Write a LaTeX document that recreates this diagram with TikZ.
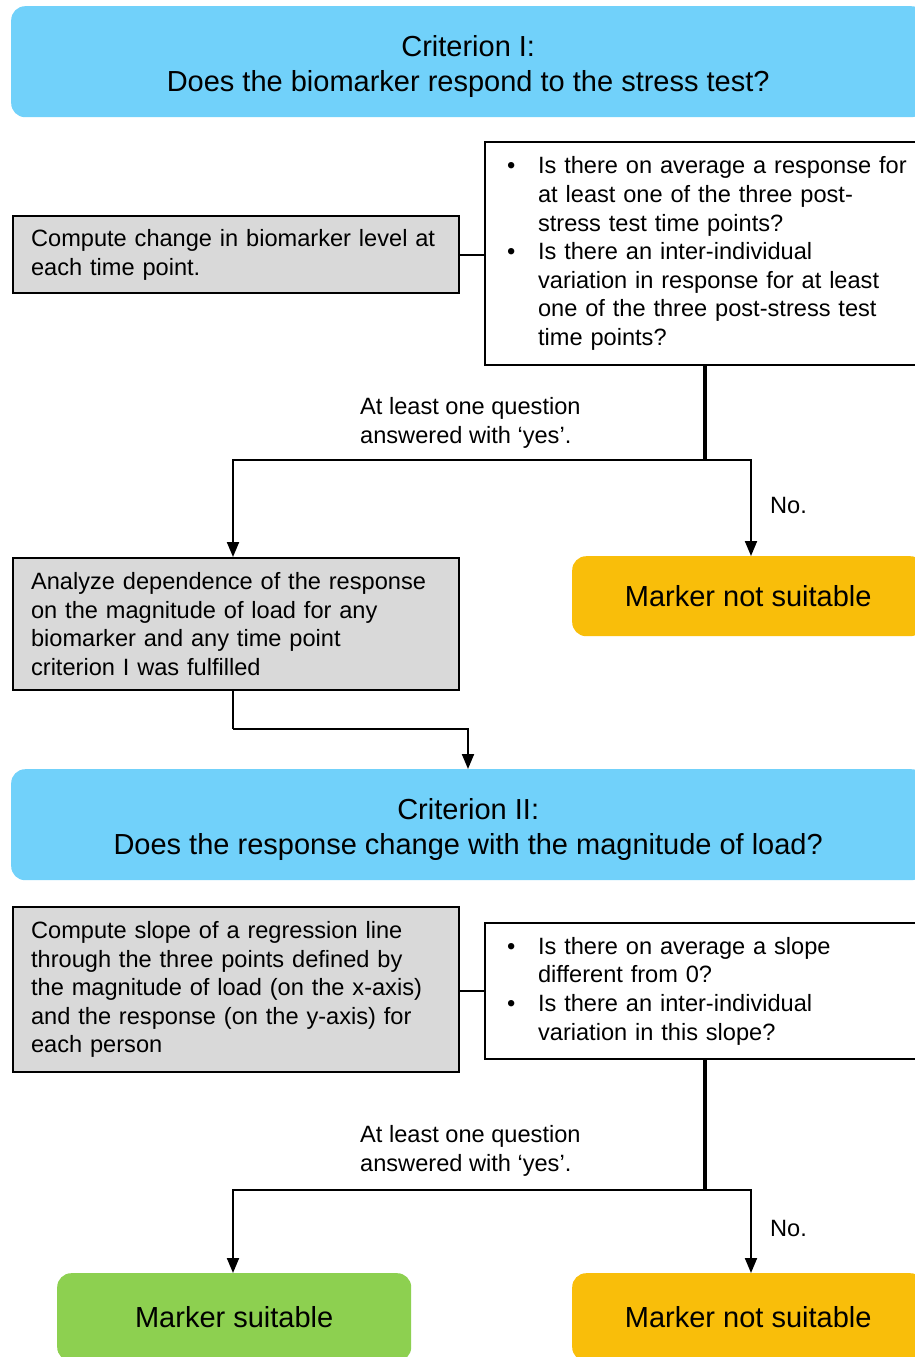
\documentclass[tikz,border=0pt]{standalone}
\usepackage{fontspec}
\setmainfont{Liberation Sans}
\usetikzlibrary{arrows.meta}
\definecolor{critblue}{RGB}{113,209,250}
\definecolor{notsuit}{RGB}{249,190,10}
\definecolor{suitgreen}{RGB}{141,208,80}
\definecolor{boxgray}{RGB}{217,217,217}
\newcommand{\bul}[1]{\mbox{\makebox[31pt][l]{\textbullet}#1}}
\newcommand{\ind}[1]{\mbox{\hspace*{31pt}#1}}
\newcommand{\oneline}[1]{\mbox{#1}}
\tikzset{
  crit/.style={draw=none, fill=critblue, rounded corners=14pt, minimum width=914pt, minimum height=111pt,
    anchor=north west, inner sep=0pt},
  crittext/.style={align=center, font=\fontsize{29}{35}\selectfont, inner sep=0pt},
  graybox/.style={draw=black, line width=2.2pt, fill=boxgray, anchor=north west, text width=410pt,
    inner xsep=18pt, inner ysep=0pt, align=left, font=\fontsize{23.6}{28.6}\selectfont},
  qbox/.style={draw=black, line width=2.2pt, fill=white, anchor=north west, text width=400pt,
    inner xsep=22pt, inner ysep=0pt, align=left, font=\fontsize{23.6}{28.6}\selectfont},
  result/.style={draw=none, rounded corners=14pt, anchor=north west, align=center, inner sep=0pt,
    font=\fontsize{29}{35}\selectfont},
  lbl/.style={anchor=west, align=left, inner sep=0pt, font=\fontsize{23.6}{29.5}\selectfont},
  conn/.style={line width=2pt},
  thickconn/.style={line width=4pt},
  arr/.style={line width=2pt, -{Triangle[width=12pt,length=15pt]}},
}
\begin{document}
\begin{tikzpicture}[x=1pt, y=-1pt]
\clip (0,0) rectangle (915,1357);
\fill[white] (0,0) rectangle (915,1357);

% Criterion I
\node[crit] (c1) at (11,6) {};
\node[crittext] (t1) at ([yshift=-5pt]c1.center) {Criterion I:\\Does the biomarker respond to the stress test?};

\node[graybox, minimum height=77pt] (g1) at (12,215)
  {\oneline{Compute change in biomarker level at}\\\oneline{each time point.}};
\node[qbox, minimum height=223pt] (w1) at (484,141)
  {\bul{Is there on average a response for}\\
   \ind{at least one of the three post-}\\
   \ind{stress test time points?}\\
   \bul{Is there an inter-individual}\\
   \ind{variation in response for at least}\\
   \ind{one of the three post-stress test}\\
   \ind{time points?}};
\draw[conn] (g1.east) -- (w1.west |- g1.east);

\coordinate (j1) at (705,460);
\draw[thickconn] (w1.south -| j1) -- (j1);

\node[lbl] (y1) at (360,423) {At least one question\\answered with ‘yes’.};
\node[lbl] (n1) at (770,505) {No.};

\node[graybox, minimum height=132pt] (g2) at (12,557)
  {\oneline{Analyze dependence of the response}\\\oneline{on the magnitude of load for any}\\\oneline{biomarker and any time point}\\\oneline{criterion I was fulfilled}};
\node[result, fill=notsuit, minimum width=352pt, minimum height=80pt] (ns1) at (572,556) {\raisebox{-2pt}{Marker not suitable}};

\coordinate (a1) at (233,557);
\coordinate (b1) at (751,556);
\draw[arr] (j1) -| (a1);
\draw[arr] (j1) -| (b1);

% Criterion II
\node[crit] (c2) at (11,769) {};
\node[crittext] (t2) at ([yshift=-5pt]c2.center) {Criterion II:\\Does the response change with the magnitude of load?};
\coordinate (k2) at (233,729);
\coordinate (m2) at (468,769);
\draw[conn] (g2.south -| k2) -- (k2);
\draw[arr] (k2) -| (m2);

\node[graybox, minimum height=165pt] (g3) at (12,906)
  {\oneline{Compute slope of a regression line}\\\oneline{through the three points defined by}\\\oneline{the magnitude of load (on the x-axis)}\\\oneline{and the response (on the y-axis) for}\\\oneline{each person}};
\node[qbox, minimum height=136pt] (w2) at (484,922)
  {\bul{Is there on average a slope}\\
   \ind{different from 0?}\\
   \bul{Is there an inter-individual}\\
   \ind{variation in this slope?}};
\draw[conn] (g3.east |- w2.west) -- (w2.west);

\coordinate (j2) at (705,1190);
\draw[thickconn] (w2.south -| j2) -- (j2);

\node[lbl] (y2) at (360,1151) {At least one question\\answered with ‘yes’.};
\node[lbl] (n2) at (770,1228) {No.};

\node[result, fill=suitgreen, minimum width=354pt, minimum height=88pt] (s) at (57,1273) {Marker suitable};
\node[result, fill=notsuit, minimum width=352pt, minimum height=88pt] (ns2) at (572,1273) {Marker not suitable};

\coordinate (a2) at (233,1273);
\coordinate (b2) at (751,1273);
\draw[arr] (j2) -| (a2);
\draw[arr] (j2) -| (b2);
\end{tikzpicture}
\end{document}
